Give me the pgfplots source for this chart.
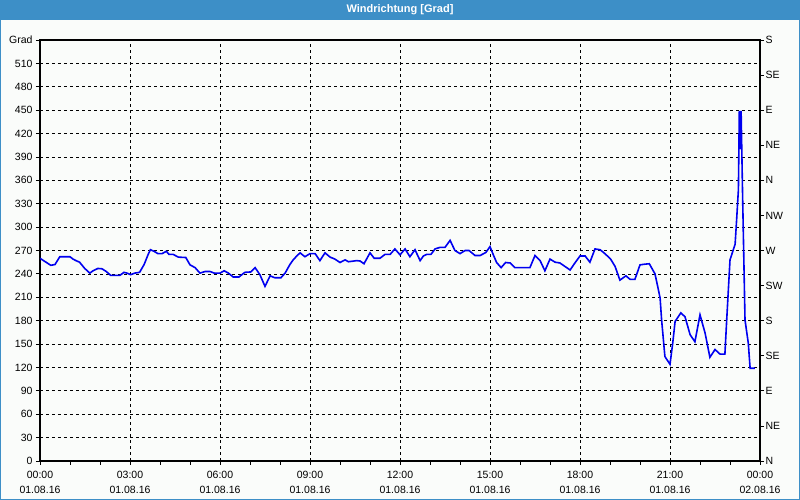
\documentclass[border=0pt]{standalone}
\usepackage{fontspec}
\setmainfont{Liberation Sans}
\usepackage{pgfplots}
\pgfplotsset{compat=1.18}
\definecolor{titlebar}{RGB}{61,143,199}
\definecolor{linie}{RGB}{0,0,240}
\definecolor{bg}{RGB}{250,252,250}

\pgfplotsset{
  gradbase/.style={
    scale only axis, width=720pt, height=421pt,
    at={(0,0)}, anchor=south west,
    xmin=0, xmax=24, ymin=0, ymax=540,
    axis line style={line width=1.2pt},
    tick align=outside, major tick length=4pt, minor tick length=4pt,
    tick style={black, line width=0.8pt},
    tick label style={font=\fontsize{10.5}{15}\selectfont},
    /pgf/number format/assume math mode=true,
  },
}

\begin{document}
\begin{tikzpicture}[x=1pt,y=1pt]
\fill[bg] (-40,-39) rectangle (760,461);
\fill[titlebar] (-40,441) rectangle (760,461);
\draw[titlebar, line width=1pt] (-39.5,-38.5) rectangle (759.5,441);
\node[white, font=\fontsize{11}{13}\selectfont\bfseries] at (360,451) {Windrichtung [Grad]};

\begin{axis}[gradbase,
  xtick={0,3,...,24}, minor xtick={1,2,4,5,7,8,10,11,13,14,16,17,19,20,22,23},
  xticklabels={00:00\\01.08.16,03:00\\01.08.16,06:00\\01.08.16,09:00\\01.08.16,
    12:00\\01.08.16,15:00\\01.08.16,18:00\\01.08.16,21:00\\01.08.16,00:00\\02.08.16},
  xticklabel style={align=center, yshift=-3pt},
  ytick={0,30,...,540},
  yticklabels={0,30,60,90,120,150,180,210,240,270,300,330,360,390,420,450,480,510,Grad},
  xtick pos=left, ytick pos=left,
  grid=major,
  major grid style={black, line width=0.7pt, dash pattern=on 3pt off 3pt},
]
\addplot[linie, line width=1.6pt] coordinates {
(0,260) (0.36,251) (0.5,252) (0.66,262) (1.0,262) (1.1,259) (1.2,257) (1.32,255)
(1.49,247) (1.66,241) (1.77,244) (1.93,247) (2.07,246.5) (2.21,243) (2.36,238)
(2.66,238) (2.8,242) (2.9,241) (3.02,239) (3.16,241) (3.32,242) (3.47,252)
(3.6,264.5) (3.68,271) (3.8,269) (3.93,266) (4.07,266) (4.21,269) (4.3,265)
(4.44,265) (4.61,261.5) (4.86,261) (5.0,251.6) (5.17,248) (5.33,241) (5.5,243)
(5.67,243) (5.81,241) (6.0,241) (6.14,244) (6.28,241) (6.44,236) (6.63,236)
(6.83,242) (7.03,242.5) (7.17,248) (7.33,239) (7.5,224) (7.67,237.5) (7.83,235)
(8.03,235) (8.17,241) (8.33,252) (8.44,258) (8.56,263) (8.67,267) (8.83,262)
(9.0,266) (9.17,266) (9.33,257) (9.5,267) (9.67,261.5) (9.83,259) (10.0,254.6)
(10.17,258) (10.28,255.6) (10.56,257) (10.67,256.5) (10.8,253) (11.0,267)
(11.14,260) (11.33,260) (11.5,265) (11.67,265) (11.83,272) (12.0,264.5)
(12.17,272) (12.33,262) (12.5,271) (12.67,257) (12.78,263) (12.89,265)
(13.03,265) (13.17,272) (13.33,274) (13.5,274) (13.67,283) (13.83,270)
(14.0,266) (14.17,270) (14.3,270) (14.5,263.6) (14.67,263.6) (14.86,267.4)
(15.0,275) (15.11,264.5) (15.22,254.6) (15.37,248) (15.52,254.6) (15.67,254)
(15.83,248) (16.03,248) (16.19,248) (16.33,248) (16.5,263.6) (16.67,257)
(16.83,244) (17.0,259) (17.17,255) (17.33,254) (17.5,249.5) (17.67,245)
(17.83,254) (18.0,263) (18.17,263) (18.33,255) (18.5,272) (18.67,271)
(18.83,266) (19.02,259) (19.17,249.5) (19.33,232) (19.53,237.5) (19.67,233)
(19.83,233) (20.0,251.6) (20.17,252.5) (20.31,253) (20.5,240) (20.6,222)
(20.67,209) (20.72,181) (20.83,134) (21.0,124) (21.09,151) (21.17,179)
(21.36,190) (21.5,185) (21.67,162) (21.83,153) (22.0,187.5) (22.17,164)
(22.33,133) (22.5,143) (22.67,137) (22.83,137) (22.89,181) (23.0,258)
(23.17,278) (23.22,309) (23.28,348) (23.31,449) (23.34,400) (23.37,449)
(23.42,340) (23.5,181) (23.61,151) (23.67,119) (23.83,119)
};
\end{axis}

\begin{axis}[gradbase,
  hide x axis,
  axis y line*=right,
  ytick={0,45,...,540},
  yticklabels={N,NE,E,SE,S,SW,W,NW,N,NE,E,SE,S},
  yticklabel style={anchor=west, xshift=-2pt},
]
\addplot[draw=none] coordinates {(0,0) (24,540)};
\end{axis}
\end{tikzpicture}
\end{document}
